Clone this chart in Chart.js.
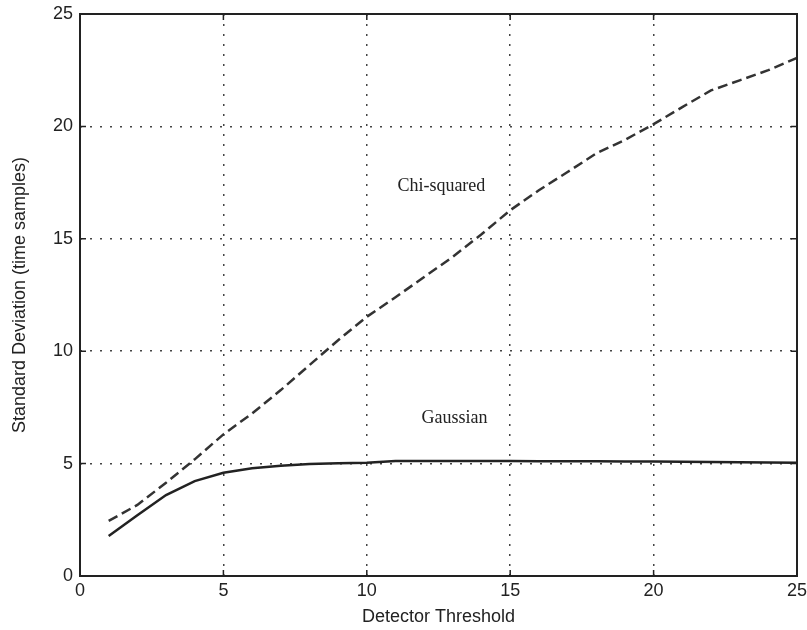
<!DOCTYPE html>
<html>
<head>
<meta charset="utf-8">
<script src="https://cdn.jsdelivr.net/npm/chart.js@4.4.1/dist/chart.umd.min.js"></script>
<style>
    html, body { margin: 0; padding: 0; background: #fff; }
    #grafico { display: block; }
</style>
</head>
<body>
<canvas id="grafico" width="807" height="630"></canvas>
<script>
// Datos
const umbrales = [1, 2, 3, 4, 5, 6, 7, 8, 9, 10, 11, 12, 13, 14, 15, 16, 17, 18, 19, 20, 21, 22, 23, 24, 25];
const chiCuadrado = [2.45, 3.16, 4.15, 5.19, 6.3, 7.23, 8.27, 9.38, 10.49, 11.53, 12.4, 13.3, 14.2, 15.2, 16.27, 17.16, 17.97, 18.8, 19.4, 20.1, 20.86, 21.6, 22.05, 22.5, 23.05];
const gaussiana = [1.78, 2.7, 3.6, 4.22, 4.59, 4.79, 4.9, 4.98, 5.02, 5.04, 5.12, 5.12, 5.12, 5.12, 5.12, 5.11, 5.1, 5.1, 5.09, 5.09, 5.08, 5.07, 5.06, 5.05, 5.04];
const ticksX = [0, 5, 10, 15, 20, 25];
const ticksY = [0, 5, 10, 15, 20, 25];
const etiquetas = [
    { texto: "Chi-squared", x: 12.6, y: 17.35 },
    { texto: "Gaussian", x: 13.06, y: 7.03 }
];

const puntos = (ys) => umbrales.map((x, i) => ({ x: x, y: ys[i] }));

// Marco, marcas interiores y etiquetas de las curvas
const marcoPlugin = {
    id: "marco",
    afterDatasetsDraw(chart) {
        const { ctx, chartArea: a, scales: { x, y } } = chart;
        ctx.save();
        ctx.strokeStyle = "#222";
        ctx.lineWidth = 2;
        ctx.strokeRect(a.left, a.top, a.right - a.left, a.bottom - a.top);

        ctx.lineWidth = 1.5;
        ctx.beginPath();
        ticksX.forEach(v => {
            const px = x.getPixelForValue(v);
            ctx.moveTo(px, a.bottom); ctx.lineTo(px, a.bottom - 6);
            ctx.moveTo(px, a.top); ctx.lineTo(px, a.top + 6);
        });
        ticksY.forEach(v => {
            const py = y.getPixelForValue(v);
            ctx.moveTo(a.left, py); ctx.lineTo(a.left + 6, py);
            ctx.moveTo(a.right, py); ctx.lineTo(a.right - 6, py);
        });
        ctx.stroke();

        ctx.fillStyle = "#222";
        ctx.font = "18px 'Liberation Serif', 'DejaVu Serif', serif";
        ctx.textAlign = "center";
        ctx.textBaseline = "middle";
        etiquetas.forEach(e => {
            ctx.fillText(e.texto, x.getPixelForValue(e.x), y.getPixelForValue(e.y));
        });
        ctx.restore();
    }
};

const fuente = { family: "'Liberation Sans', Arial, sans-serif", size: 18 };

new Chart(document.getElementById("grafico").getContext("2d"), {
    type: "line",
    data: {
        datasets: [
            {
                label: "Chi-squared",
                data: puntos(chiCuadrado),
                borderColor: "#333",
                borderWidth: 2.5,
                borderDash: [10, 5],
                pointRadius: 0,
                fill: false,
                tension: 0
            },
            {
                label: "Gaussian",
                data: puntos(gaussiana),
                borderColor: "#222",
                borderWidth: 2.5,
                pointRadius: 0,
                fill: false,
                tension: 0
            }
        ]
    },
    options: {
        responsive: false,
        animation: false,
        layout: { padding: { top: 14, right: 10, left: 0, bottom: 0 } },
        plugins: {
            legend: { display: false },
            tooltip: { enabled: false }
        },
        scales: {
            x: {
                type: "linear",
                min: 0,
                max: 25,
                afterFit: (s) => { s.height = 54; s.paddingLeft = 0; s.paddingRight = 0; },
                afterBuildTicks: (s) => { s.ticks = ticksX.map(v => ({ value: v })); },
                ticks: { color: "#222", font: fuente, padding: 4, maxRotation: 0 },
                grid: { color: "#444", lineWidth: 1.5, drawTicks: false },
                border: { display: false, dash: [2, 8] },
                title: { display: true, text: "Detector Threshold", color: "#222", font: fuente, padding: { top: 0, bottom: 2 } }
            },
            y: {
                min: 0,
                max: 25,
                afterFit: (s) => { s.width = 80; s.paddingTop = 0; s.paddingBottom = 0; },
                afterBuildTicks: (s) => { s.ticks = ticksY.map(v => ({ value: v })); },
                ticks: { color: "#222", font: fuente, padding: 7 },
                grid: { color: "#444", lineWidth: 1.5, drawTicks: false },
                border: { display: false, dash: [2, 8] },
                title: { display: true, text: "Standard Deviation (time samples)", color: "#222", font: fuente, padding: { top: 9, bottom: 0 } }
            }
        }
    },
    plugins: [marcoPlugin]
});
</script>
</body>
</html>
